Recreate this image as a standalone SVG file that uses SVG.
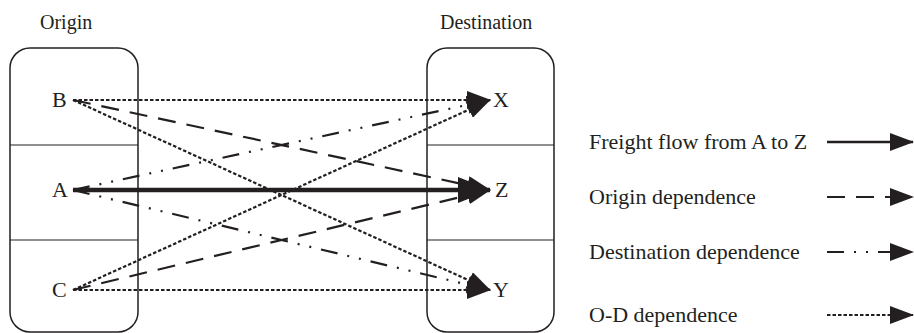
<svg xmlns="http://www.w3.org/2000/svg" width="914" height="333" viewBox="0 0 914 333">
<style>
text{font-family:"Liberation Serif","Times New Roman",serif;fill:#231f20}
.t{font-size:20px}
.l{font-size:22px}
.box{fill:none;stroke:#231f20;stroke-width:1.5}
.div{stroke:#231f20;stroke-width:1.2}
.ln{fill:none;stroke:#231f20;stroke-width:2.2}
.solid{stroke-width:4.5}
.dot{stroke-dasharray:3.5 2}
.dash{stroke-dasharray:18 11}
.dd{stroke-dasharray:17 10 2 10 2 10}
</style>
<defs>
<marker id="ah" markerUnits="userSpaceOnUse" markerWidth="24" markerHeight="18" refX="23" refY="9" orient="auto">
<path d="M0,0 L24,9 L0,18 z" fill="#231f20"/>
</marker>
<marker id="ahb" markerUnits="userSpaceOnUse" markerWidth="33" markerHeight="26" refX="32" refY="13" orient="auto">
<path d="M0,0 L33,13 L0,26 z" fill="#231f20"/>
</marker>
</defs>
<g id="title-origin"><text class="t" x="40" y="29">Origin</text></g>
<g id="title-destination"><text class="t" x="440" y="29">Destination</text></g>
<g id="origin-box">
<rect class="box" x="10" y="48" width="128" height="284" rx="20"/>
<line class="div" x1="10" y1="145" x2="138" y2="145"/>
<line class="div" x1="10" y1="240" x2="138" y2="240"/>
</g>
<g id="destination-box">
<rect class="box" x="427" y="48" width="127" height="284" rx="20"/>
<line class="div" x1="427" y1="145" x2="554" y2="145"/>
<line class="div" x1="427" y1="240" x2="554" y2="240"/>
</g>
<g id="node-B"><text class="l" x="52" y="107">B</text></g>
<g id="node-A"><text class="l" x="52" y="197">A</text></g>
<g id="node-C"><text class="l" x="52" y="297">C</text></g>
<g id="node-X"><text class="l" x="493" y="107">X</text></g>
<g id="node-Z"><text class="l" x="495" y="197">Z</text></g>
<g id="node-Y"><text class="l" x="493" y="297">Y</text></g>
<g id="connectors">
<line class="ln dot" x1="73" y1="100" x2="490" y2="100" marker-end="url(#ah)"/>
<line class="ln dash" x1="73" y1="100" x2="490" y2="190" marker-end="url(#ah)"/>
<line class="ln dot" x1="73" y1="100" x2="490" y2="290" marker-end="url(#ah)"/>
<line class="ln dd" x1="73" y1="190" x2="490" y2="100" marker-end="url(#ah)"/>
<line class="ln dd" x1="73" y1="190" x2="490" y2="290" marker-end="url(#ah)"/>
<line class="ln dot" x1="73" y1="290" x2="490" y2="100" marker-end="url(#ah)"/>
<line class="ln dash" x1="73" y1="290" x2="490" y2="190" marker-end="url(#ah)"/>
<line class="ln dot" x1="73" y1="290" x2="490" y2="290" marker-end="url(#ah)"/>
<line class="ln solid" x1="73" y1="190" x2="490" y2="190" marker-end="url(#ahb)"/>
</g>
<g id="legend">
<text class="l" x="589" y="149">Freight flow from A to Z</text>
<line class="ln" style="stroke-width:2.6" x1="827" y1="142" x2="913" y2="142" marker-end="url(#ah)"/>
<text class="l" x="589" y="204">Origin dependence</text>
<line class="ln dash" x1="827" y1="197" x2="913" y2="197" marker-end="url(#ah)"/>
<text class="l" x="589" y="259">Destination dependence</text>
<line class="ln dd" x1="827" y1="252" x2="913" y2="252" marker-end="url(#ah)"/>
<text class="l" x="589" y="322">O-D dependence</text>
<line class="ln dot" x1="827" y1="315" x2="913" y2="315" marker-end="url(#ah)"/>
</g>
</svg>
